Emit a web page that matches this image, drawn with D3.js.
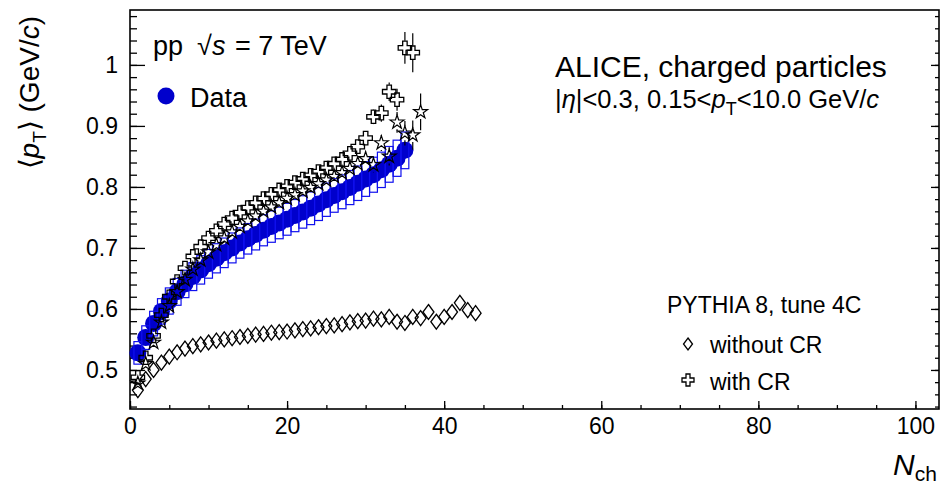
<!DOCTYPE html>
<html>
<head>
<meta charset="utf-8">
<script src="https://cdn.jsdelivr.net/npm/d3@7"></script>
<style>
  body { margin: 0; background: #fff; }
  text { font-family: "Liberation Sans", Arial, Helvetica, sans-serif; fill: #000; }
</style>
</head>
<body>
<div id="chart"></div>
<script>
// <pT> vs Nch, pp 7 TeV, data vs PYTHIA 8

// ALICE data, Nch = 1..35
const dataNch = d3.range(1, 36);
const dataVals = [0.528, 0.553, 0.576, 0.596, 0.613, 0.628, 0.641, 0.653, 0.664, 0.674,
                  0.683, 0.692, 0.700, 0.708, 0.715, 0.722, 0.729, 0.735, 0.741, 0.747,
                  0.753, 0.759, 0.765, 0.772, 0.779, 0.786, 0.792, 0.799, 0.806, 0.813,
                  0.820, 0.828, 0.837, 0.847, 0.860];
const dataSysRel = 0.035;

// PYTHIA 8 without colour reconnection, Nch = 1..44
const noCrNch = d3.range(1, 45);
const noCrVals = [0.467, 0.485, 0.500, 0.512, 0.522, 0.529, 0.535, 0.539, 0.542, 0.545,
                  0.548, 0.550, 0.552, 0.554, 0.556, 0.558, 0.559, 0.561, 0.562, 0.563,
                  0.565, 0.567, 0.568, 0.570, 0.572, 0.573, 0.575, 0.578, 0.580, 0.581,
                  0.584, 0.583, 0.587, 0.579, 0.577, 0.587, 0.585, 0.595, 0.579, 0.587,
                  0.595, 0.610, 0.598, 0.593];

// PYTHIA 8 with colour reconnection, Nch = 1..36
const crNch = d3.range(1, 37);
const crVals = [0.488, 0.520, 0.556, 0.590, 0.620, 0.645, 0.667, 0.686, 0.702, 0.716,
                0.728, 0.739, 0.749, 0.758, 0.766, 0.774, 0.781, 0.788, 0.795, 0.801,
                0.807, 0.813, 0.819, 0.825, 0.831, 0.838, 0.845, 0.855, 0.866, 0.880,
                0.915, 0.921, 0.956, 0.943, 1.028, 1.020];
const crErr = [0.002, 0.002, 0.002, 0.002, 0.002, 0.002, 0.002, 0.002, 0.002, 0.002,
               0.002, 0.002, 0.002, 0.003, 0.003, 0.003, 0.003, 0.003, 0.004, 0.004,
               0.004, 0.005, 0.005, 0.005, 0.006, 0.006, 0.007, 0.008, 0.009, 0.010,
               0.012, 0.014, 0.015, 0.018, 0.026, 0.032];

// second PYTHIA curve drawn with stars (no legend entry), Nch = 1..37
const starNch = d3.range(1, 38);
const starVals = [0.478, 0.510, 0.545, 0.578, 0.605, 0.628, 0.648, 0.665, 0.680, 0.693,
                  0.705, 0.716, 0.726, 0.735, 0.744, 0.752, 0.760, 0.767, 0.774, 0.781,
                  0.787, 0.793, 0.799, 0.805, 0.811, 0.817, 0.823, 0.830, 0.838, 0.846,
                  0.836, 0.872, 0.850, 0.906, 0.888, 0.885, 0.923];
const starErr = [0.002, 0.002, 0.002, 0.002, 0.002, 0.002, 0.002, 0.002, 0.002, 0.002,
                 0.002, 0.002, 0.002, 0.003, 0.003, 0.003, 0.003, 0.003, 0.004, 0.004,
                 0.004, 0.005, 0.005, 0.005, 0.006, 0.006, 0.007, 0.008, 0.009, 0.010,
                 0.012, 0.013, 0.015, 0.017, 0.020, 0.024, 0.030];

const xMajor = [0, 20, 40, 60, 80, 100];
const xMinor = d3.range(0, 104, 5);
const yMajor = [0.5, 0.6, 0.7, 0.8, 0.9, 1.0];
const yMajorLabels = ["0.5", "0.6", "0.7", "0.8", "0.9", "1"];
const yMinor = d3.range(0.44, 1.09, 0.02);

const W = 950, H = 486;
const frame = {left: 130, right: 939, top: 10, bottom: 409};
const blue = "#0000cc";

const svg = d3.select("#chart").append("svg")
    .attr("width", W)
    .attr("height", H);

const x = d3.scaleLinear().domain([0, 103]).range([frame.left, frame.right]);
const y = d3.scaleLinear().domain([0.436, 1.09]).range([frame.bottom, frame.top]);

// axes: ticks point inwards
svg.append("g")
    .attr("transform", "translate(" + frame.left + ",0)")
    .call(d3.axisLeft(y).tickValues(yMinor).tickSize(-7).tickFormat(""))
    .call(g => g.select(".domain").remove());
svg.append("g")
    .attr("transform", "translate(" + frame.left + ",0)")
    .call(d3.axisLeft(y).tickValues(yMajor).tickSize(-15).tickPadding(12)
        .tickFormat((d, i) => yMajorLabels[i]))
    .call(g => g.select(".domain").remove())
    .selectAll("text").attr("font-size", "23px").attr("font-family", null);

svg.append("g")
    .attr("transform", "translate(" + frame.right + ",0)")
    .call(d3.axisRight(y).tickValues(yMinor).tickSize(-4).tickFormat(""))
    .call(g => g.select(".domain").remove());
svg.append("g")
    .attr("transform", "translate(" + frame.right + ",0)")
    .call(d3.axisRight(y).tickValues(yMajor).tickSize(-8).tickFormat(""))
    .call(g => g.select(".domain").remove());

svg.append("g")
    .attr("transform", "translate(0," + frame.bottom + ")")
    .call(d3.axisBottom(x).tickValues(xMinor).tickSize(-4).tickFormat(""))
    .call(g => g.select(".domain").remove());
svg.append("g")
    .attr("transform", "translate(0," + frame.bottom + ")")
    .call(d3.axisBottom(x).tickValues(xMajor).tickSize(-8).tickPadding(9).tickFormat(d3.format("d")))
    .call(g => g.select(".domain").remove())
    .selectAll("text").attr("font-size", "23px").attr("font-family", null);

svg.selectAll(".tick line").attr("stroke", "#000").attr("stroke-width", 1.3);

// frame
svg.append("rect")
    .attr("x", frame.left)
    .attr("y", frame.top)
    .attr("width", frame.right - frame.left)
    .attr("height", frame.bottom - frame.top)
    .attr("fill", "none")
    .attr("stroke", "#000")
    .attr("stroke-width", 1.6);

const plot = svg.append("g");

// data: filled circles + systematic boxes
plot.selectAll(".dot")
    .data(dataNch)
    .enter().append("circle")
    .attr("class", "dot")
    .attr("cx", d => x(d))
    .attr("cy", (d, i) => y(dataVals[i]))
    .attr("r", 8.5)
    .attr("fill", blue);

plot.selectAll(".sys")
    .data(dataNch)
    .enter().append("rect")
    .attr("class", "sys")
    .attr("x", d => x(d - 0.5))
    .attr("width", d => x(d + 0.5) - x(d - 0.5))
    .attr("y", (d, i) => y(dataVals[i] * (1 + dataSysRel)))
    .attr("height", (d, i) => y(dataVals[i] * (1 - dataSysRel)) - y(dataVals[i] * (1 + dataSysRel)))
    .attr("fill", "none")
    .attr("stroke", "#1010ee")
    .attr("stroke-width", 1.2);

// marker shapes
function diamondPath(w, h) {
    return "M0," + (-h / 2) + "L" + (w / 2) + ",0L0," + (h / 2) + "L" + (-w / 2) + ",0Z";
}
const crossPath = d3.symbol().type(d3.symbolCross).size(100)();
const starPath = d3.symbol().type(d3.symbolStar).size(60)();

function errorBars(nch, vals, errs, half) {
    const segs = [];
    nch.forEach((n, i) => {
        const yt = y(vals[i] + errs[i]), yb = y(vals[i] - errs[i]), yc = y(vals[i]);
        if (yc - yt > half) segs.push([x(n), yt, yc - half]);
        if (yb - yc > half) segs.push([x(n), yc + half, yb]);
    });
    plot.append("g").selectAll("line")
        .data(segs)
        .enter().append("line")
        .attr("x1", d => d[0]).attr("x2", d => d[0])
        .attr("y1", d => d[1]).attr("y2", d => d[2])
        .attr("stroke", "#000")
        .attr("stroke-width", 1.2);
}

// without CR: open diamonds
plot.append("g").selectAll("path")
    .data(noCrNch)
    .enter().append("path")
    .attr("d", diamondPath(11, 15))
    .attr("transform", (d, i) => "translate(" + x(d) + "," + y(noCrVals[i]) + ")")
    .attr("fill", "none")
    .attr("stroke", "#000")
    .attr("stroke-width", 1.3);

// with CR: open crosses
errorBars(crNch, crVals, crErr, 7);
plot.append("g").selectAll("path")
    .data(crNch)
    .enter().append("path")
    .attr("d", crossPath)
    .attr("transform", (d, i) => "translate(" + x(d) + "," + y(crVals[i]) + ")")
    .attr("fill", "none")
    .attr("stroke", "#000")
    .attr("stroke-width", 1.3);

// stars
errorBars(starNch, starVals, starErr, 7);
plot.append("g").selectAll("path")
    .data(starNch)
    .enter().append("path")
    .attr("d", starPath)
    .attr("transform", (d, i) => "translate(" + x(d) + "," + y(starVals[i]) + ")")
    .attr("fill", "none")
    .attr("stroke", "#000")
    .attr("stroke-width", 1.2);

// labels
svg.append("text").attr("x", 153).attr("y", 55).attr("font-size", "27px").text("pp");
svg.append("text").attr("x", 197).attr("y", 55).attr("font-size", "27px").text("\u221A");
svg.append("text").attr("x", 212).attr("y", 55).attr("font-size", "27px")
    .style("font-style", "italic").text("s");
svg.append("text").attr("x", 235).attr("y", 55).attr("font-size", "27px").text("= 7 TeV");

svg.append("circle").attr("cx", 166).attr("cy", 96).attr("r", 8.5).attr("fill", blue);
svg.append("text").attr("x", 190).attr("y", 107).attr("font-size", "27px").text("Data");

svg.append("text").attr("x", 555).attr("y", 77).attr("font-size", "30px").text("ALICE, charged particles");

const sel = svg.append("text").attr("x", 555).attr("y", 108).attr("font-size", "25.5px");
sel.append("tspan").text("|");
sel.append("tspan").style("font-style", "italic").text("\u03B7");
sel.append("tspan").text("|<0.3, 0.15<");
sel.append("tspan").style("font-style", "italic").text("p");
sel.append("tspan").attr("dy", 7).attr("font-size", "18px").text("T");
sel.append("tspan").attr("dy", -7).text("<10.0 GeV/");
sel.append("tspan").style("font-style", "italic").text("c");

svg.append("text").attr("x", 667).attr("y", 313).attr("font-size", "23px").text("PYTHIA 8, tune 4C");
svg.append("path").attr("d", diamondPath(9, 12))
    .attr("transform", "translate(688,344)")
    .attr("fill", "none").attr("stroke", "#000").attr("stroke-width", 1.3);
svg.append("text").attr("x", 710).attr("y", 353).attr("font-size", "23px").text("without CR");
svg.append("path").attr("d", d3.symbol().type(d3.symbolCross).size(80)())
    .attr("transform", "translate(688,380)")
    .attr("fill", "none").attr("stroke", "#000").attr("stroke-width", 1.3);
svg.append("text").attr("x", 710).attr("y", 390).attr("font-size", "23px").text("with CR");

// axis titles
const xt = svg.append("text").attr("x", 893).attr("y", 475).attr("font-size", "30px");
xt.append("tspan").style("font-style", "italic").text("N");
xt.append("tspan").attr("dy", 6).attr("font-size", "21px").text("ch");

const yt = svg.append("text")
    .attr("transform", "translate(39,16) rotate(-90)")
    .attr("text-anchor", "end")
    .attr("font-size", "28px");
yt.append("tspan").text("\u27E8");
yt.append("tspan").style("font-style", "italic").text("p");
yt.append("tspan").attr("dy", 7).attr("font-size", "19px").text("T");
yt.append("tspan").attr("dy", -7).text("\u27E9 (GeV/");
yt.append("tspan").style("font-style", "italic").text("c");
yt.append("tspan").text(")");
</script>
</body>
</html>
